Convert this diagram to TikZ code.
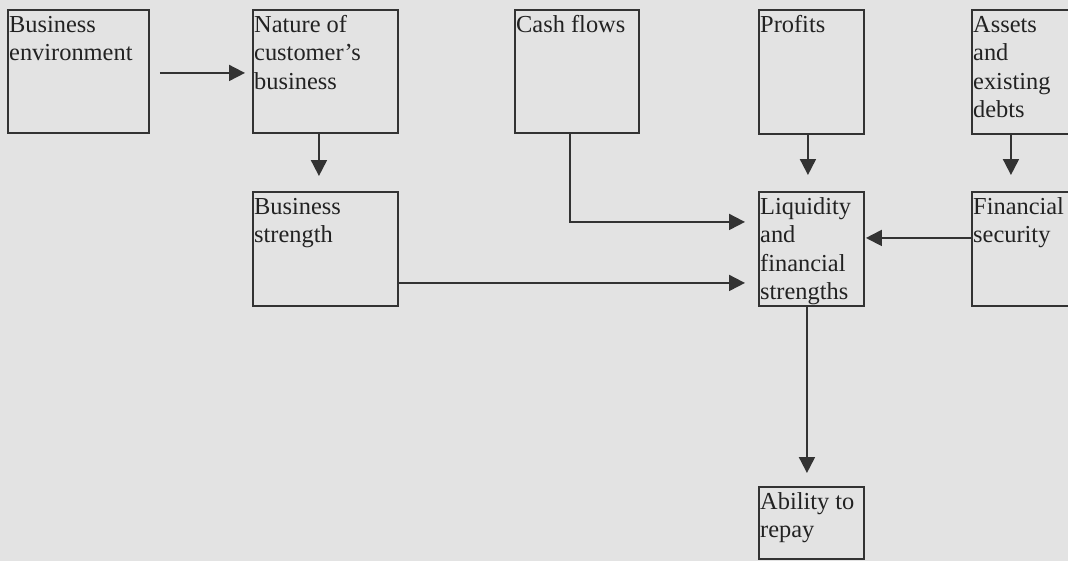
\documentclass[tikz,border=0pt]{standalone}
\usepackage{fontspec}
\setmainfont{Liberation Serif}
\usetikzlibrary{arrows.meta}
\definecolor{bg}{HTML}{E3E3E3}
\definecolor{ink}{HTML}{222222}
\definecolor{edge}{HTML}{333333}
\begin{document}
\begin{tikzpicture}[x=1pt,y=-1pt,
  box/.style={draw=edge, line width=1.9pt, rectangle, inner sep=0pt, anchor=north west},
  txt/.style={anchor=north west, inner sep=0pt, align=left, text=ink,
    font=\fontsize{24.4}{28.5}\selectfont},
  arr/.style={draw=edge, line width=1.9pt, -{Triangle[length=16pt,width=16pt]}}]
\useasboundingbox (0,0) rectangle (1068,560);
\fill[bg] (-10,-10) rectangle (1078,570);
% boxes
\node[box, minimum width=141pt, minimum height=123pt] (be)   at (7,9) {};
\node[box, minimum width=145pt, minimum height=123pt] (nat)  at (252,9) {};
\node[box, minimum width=124pt, minimum height=123pt] (cash) at (514,9) {};
\node[box, minimum width=105pt, minimum height=124pt] (prof) at (758,9) {};
\node[box, minimum width=112pt, minimum height=124pt] (ass)  at (971,9) {};
\node[box, minimum width=145pt, minimum height=114pt] (bs)   at (252,191) {};
\node[box, minimum width=105pt, minimum height=114pt] (liq)  at (758,191) {};
\node[box, minimum width=112pt, minimum height=114pt] (fs)   at (971,191) {};
\node[box, minimum width=105pt, minimum height=72pt]  (abl)  at (758,486) {};
% texts
\node[txt] (tbe)   at ([xshift=2pt,yshift=-6pt]be.north west)   {\rule{0pt}{17pt}Business\\environment};
\node[txt] (tnat)  at ([xshift=2pt,yshift=-6pt]nat.north west)  {\rule{0pt}{17pt}Nature of\\customer's\\business};
\node[txt] (tcash) at ([xshift=2pt,yshift=-6pt]cash.north west) {\rule{0pt}{17pt}Cash flows};
\node[txt] (tprof) at ([xshift=2pt,yshift=-6pt]prof.north west) {\rule{0pt}{17pt}Profits};
\node[txt] (tass)  at ([xshift=2pt,yshift=-6pt]ass.north west)  {\rule{0pt}{17pt}Assets\\and\\existing\\debts};
\node[txt] (tbs)   at ([xshift=2pt,yshift=-6pt]bs.north west)   {\rule{0pt}{17pt}Business\\strength};
\node[txt] (tliq)  at ([xshift=2pt,yshift=-6pt]liq.north west)  {\rule{0pt}{17pt}Liquidity\\and\\financial\\strengths};
\node[txt] (tfs)   at ([xshift=2pt,yshift=-6pt]fs.north west)   {\rule{0pt}{17pt}Financial\\security};
\node[txt] (tabl)  at ([xshift=2pt,yshift=-6pt]abl.north west)  {\rule{0pt}{17pt}Ability to\\repay};
% connectors
\draw[arr, shorten <=10pt, shorten >=7pt] ([yshift=-1.5pt]be.east) -- ([yshift=-1.5pt]nat.west);
\draw[arr, shorten >=15pt] ([xshift=-6.5pt]nat.south) -- ([xshift=-6.5pt]bs.north);
\draw[arr, shorten >=16pt] ([xshift=-3.5pt]prof.south) -- ([xshift=-3.5pt]liq.north);
\draw[arr, shorten >=16pt] ([xshift=-17pt]ass.south) -- ([xshift=-17pt]fs.north);
\draw[arr, shorten >=13pt] ([xshift=-7pt]cash.south) |- ([yshift=27pt]liq.west);
\draw[arr, shorten >=1pt] ([yshift=11pt]fs.west) -- ([yshift=11pt]liq.east);
\draw[arr, shorten >=13pt] ([yshift=-34pt]bs.east) -- ([yshift=-34pt]liq.west);
\draw[arr, shorten >=13pt] ([xshift=-4.5pt]liq.south) -- ([xshift=-4.5pt]abl.north);
\end{tikzpicture}
\end{document}
